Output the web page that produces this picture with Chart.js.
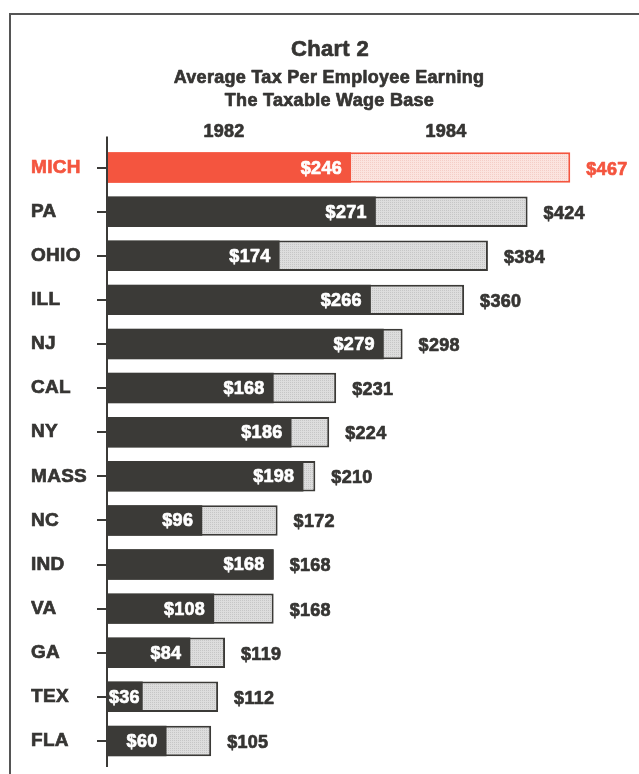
<!DOCTYPE html>
<html>
<head>
<meta charset="utf-8">
<script src="https://cdn.jsdelivr.net/npm/chart.js@4/dist/chart.umd.min.js"></script>
<style>
  html, body { margin: 0; padding: 0; background: #ffffff; }
  #wrap { position: relative; width: 639px; height: 774px; }
</style>
</head>
<body>
<div id="wrap"><canvas id="c" width="639" height="774"></canvas></div>
<script>
// ---- data ----
const states = ['MICH', 'PA', 'OHIO', 'ILL', 'NJ', 'CAL', 'NY', 'MASS', 'NC', 'IND', 'VA', 'GA', 'TEX', 'FLA'];
const tax1982 = [246, 271, 174, 266, 279, 168, 186, 198, 96, 168, 108, 84, 36, 60];
const tax1984 = [467, 424, 384, 360, 298, 231, 224, 210, 172, 168, 168, 119, 112, 105];
const yearLabels = ['1982', '1984'];
const titleText = 'Chart 2';
const subtitleLines = ['Average Tax Per Employee Earning', 'The Taxable Wage Base'];
const highlight = 'MICH';

// ---- styles ----
const FONT = '"Liberation Sans", Arial, Helvetica, sans-serif';
const DARK = '#3b3a37';
const TEXT = '#363533';
const RED = '#f4553f';
const SPACING = '0.3px';
const STROKE = 0.7;

function makePattern(base, dot) {
  const p = document.createElement('canvas');
  p.width = 4; p.height = 4;
  const g = p.getContext('2d');
  g.fillStyle = base; g.fillRect(0, 0, 4, 4);
  g.fillStyle = dot;
  g.fillRect(0, 0, 1, 1); g.fillRect(2, 2, 1, 1);
  g.fillRect(2, 0, 1, 1); g.fillRect(0, 2, 1, 1);
  return g.createPattern(p, 'repeat');
}
const ctx0 = document.getElementById('c').getContext('2d');
const greyPat = makePattern('#dddddd', '#c6c6c6');
const pinkPat = makePattern('#fbe4df', '#f4cdc6');

const isHi = (i) => states[i] === highlight;

function heavyText(c, text, x, y, color) {
  c.fillStyle = color;
  c.strokeStyle = color;
  c.lineWidth = STROKE;
  c.lineJoin = 'round';
  c.fillText(text, x, y);
  c.strokeText(text, x, y);
}

const decorPlugin = {
  id: 'decor',
  beforeDraw(chart) {
    const c = chart.ctx;
    c.letterSpacing = SPACING;
    c.save();
    // frame (top and left)
    c.strokeStyle = '#555555';
    c.lineWidth = 2;
    c.beginPath();
    c.moveTo(639, 14);
    c.lineTo(10, 14);
    c.lineTo(10, 774);
    c.stroke();
    // titles
    c.textAlign = 'center';
    c.textBaseline = 'alphabetic';
    c.font = 'bold 22px ' + FONT;
    heavyText(c, titleText, 330, 56, TEXT);
    c.font = 'bold 18px ' + FONT;
    heavyText(c, subtitleLines[0], 329, 83, TEXT);
    heavyText(c, subtitleLines[1], 329.5, 106, TEXT);
    // year headers
    c.font = 'bold 18px ' + FONT;
    heavyText(c, yearLabels[0], 224, 137, TEXT);
    heavyText(c, yearLabels[1], 446, 137, TEXT);
    c.restore();
  },
  afterDatasetsDraw(chart) {
    const c = chart.ctx;
    const xs = chart.scales.x;
    const area = chart.chartArea;
    const base = xs.getPixelForValue(0);
    c.save();
    // axis line
    c.strokeStyle = DARK;
    c.lineWidth = 2;
    c.beginPath();
    c.moveTo(base, area.top - 9);
    c.lineTo(base, area.bottom + 4);
    c.stroke();
    // value labels
    const m82 = chart.getDatasetMeta(0);
    const m84 = chart.getDatasetMeta(1);
    c.font = 'bold 18px ' + FONT;
    c.textBaseline = 'middle';
    states.forEach((s, i) => {
      const b82 = m82.data[i];
      const b84 = m84.data[i];
      const t82 = '$' + tax1982[i];
      const w = c.measureText(t82).width;
      if (b82.x - base < w + 12) {
        c.textAlign = 'left';
        heavyText(c, t82, base + 2, b82.y + 1, '#ffffff');
      } else {
        c.textAlign = 'right';
        heavyText(c, t82, b82.x - 9, b82.y + 1, '#ffffff');
      }
      c.textAlign = 'left';
      heavyText(c, '$' + tax1984[i], b84.x + 16, b84.y + 2, isHi(i) ? RED : TEXT);
    });
    c.restore();
  }
};

new Chart(ctx0, {
  type: 'bar',
  data: {
    labels: states,
    datasets: [
      {
        label: yearLabels[0],
        data: tax1982,
        grouped: false,
        backgroundColor: states.map((s, i) => isHi(i) ? RED : DARK),
        borderWidth: 0,
        categoryPercentage: 1,
        barPercentage: 0.69
      },
      {
        label: yearLabels[1],
        data: tax1984,
        grouped: false,
        backgroundColor: states.map((s, i) => isHi(i) ? pinkPat : greyPat),
        borderColor: states.map((s, i) => isHi(i) ? RED : DARK),
        borderWidth: 2,
        borderSkipped: false,
        categoryPercentage: 1,
        barPercentage: 0.69
      }
    ]
  },
  options: {
    indexAxis: 'y',
    responsive: false,
    animation: false,
    devicePixelRatio: 1,
    layout: { padding: { top: 145.5, left: 31, right: 36, bottom: 11 } },
    plugins: {
      legend: { display: false },
      tooltip: { enabled: false },
      title: { display: false }
    },
    scales: {
      x: {
        display: false,
        min: 0,
        max: 500
      },
      y: {
        afterFit(scale) {
          scale.width = 76;
          scale.paddingTop = 0;
          scale.paddingBottom = 0;
        },
        border: { display: false },
        grid: {
          offset: false,
          drawOnChartArea: false,
          drawTicks: true,
          tickLength: 10,
          color: DARK,
          lineWidth: 2
        },
        ticks: {
          crossAlign: 'far',
          padding: 4,
          color: (ctx) => isHi(ctx.index) ? RED : TEXT,
          textStrokeColor: (ctx) => isHi(ctx.index) ? RED : TEXT,
          textStrokeWidth: STROKE,
          font: { family: FONT, size: 19, weight: 'bold' }
        }
      }
    }
  },
  plugins: [decorPlugin]
});
</script>
</body>
</html>
